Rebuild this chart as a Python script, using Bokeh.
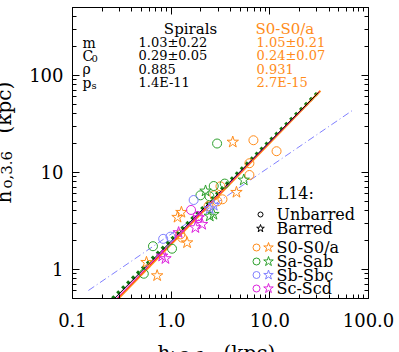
import math
from bokeh.plotting import figure
from bokeh.models import Range1d, LogAxis, FixedTicker, CustomJSTickFormatter, Label
from bokeh.core.properties import value
from bokeh.embed import file_html
from bokeh.resources import INLINE

# ---------------- data ----------------
s0_unbar_x = [6.82, 11.7, 6.21, 6.21, 3.16, 2.94, 1.29, 2.74, 2.39, 3.31, 1.24]
s0_unbar_y = [21.4, 16.5, 12.4, 9.38, 7.17, 5.02, 2.12, 5.79, 4.47, 5.27, 2.29]
s0_bar_x = [4.21, 4.59, 1.27, 1.16, 1.45, 0.562, 0.721]
s0_bar_y = [20.5, 6.22, 3.87, 3.44, 1.88, 1.18, 0.86]
sa_unbar_x = [2.92, 1.98, 2.70, 3.49, 0.654, 1.02, 0.528, 2.44]
sa_unbar_y = [19.8, 5.79, 7.22, 7.65, 1.73, 1.63, 0.90, 5.66]
sa_bar_x = [5.44, 2.23, 2.46, 2.68]
sa_bar_y = [8.33, 6.42, 3.54, 3.69]
sb_unbar_x = [1.69, 0.830, 0.984]
sb_unbar_y = [5.18, 2.06, 2.17]
sb_bar_x = [2.46, 2.70]
sb_bar_y = [4.22, 4.57]
sc_unbar_x = [1.59, 1.86]
sc_unbar_y = [4.09, 3.54]
sc_bar_x = [1.76, 2.06, 1.90, 0.811, 0.875, 1.19]
sc_bar_y = [2.69, 2.91, 3.41, 1.37, 1.29, 2.39]

# fitted relations (end points)
green_fit_x = [0.254, 31.1]
green_fit_y = [0.5, 67.5]
black_fit_x = [0.266, 31.1]
black_fit_y = [0.5, 66.5]
magenta_fit_x = [0.278, 31.6]
magenta_fit_y = [0.5, 67.5]
red_fit_x = [0.285, 32.0]
red_fit_y = [0.5, 68.5]
orange_fit_x = [0.292, 32.6]
orange_fit_y = [0.5, 69.2]
blue_fit_x = [0.145, 70.0]
blue_fit_y = [0.605, 44.0]

x_major = [0.1, 1, 10, 100]
x_minor = [0.2, 0.3, 0.4, 0.5, 0.6, 0.7, 0.8, 0.9, 2, 3, 4, 5, 6, 7, 8, 9,
           20, 30, 40, 50, 60, 70, 80, 90]
y_major = [1, 10, 100]
y_minor = [0.6, 0.7, 0.8, 0.9, 2, 3, 4, 5, 6, 7, 8, 9,
           20, 30, 40, 50, 60, 70, 80, 90, 200, 300, 400]

stat_names = ["m", "C", "\u03c1", "p"]
stat_subs = ["", "0", "", "s"]
spiral_stats = ["1.03\u00b10.22", "0.29\u00b10.05", "0.885", "1.4E-11"]
s0_stats = ["1.05\u00b10.21", "0.24\u00b10.07", "0.931", "2.7E-15"]
legend_types = ["S0-S0/a", "Sa-Sab", "Sb-Sbc", "Sc-Scd"]

# ---------------- styles ----------------
ORANGE = "#ff8c1a"
GREEN = "#2ca02c"
BLUE = "#8080ff"
MAGENTA = "#dd22dd"
RED = "#ff2020"
type_colors = [ORANGE, GREEN, BLUE, MAGENTA]
SERIF = "DejaVu Serif"

XR = (0.1, 100.0)
YR = (0.5, 500.0)
FW, FH = 296, 291  # frame size in px

p = figure(width=399, height=352, x_axis_type="log", y_axis_type="log",
           x_range=Range1d(*XR), y_range=Range1d(*YR),
           output_backend="svg", toolbar_location=None,
           min_border_left=72, min_border_right=31, min_border_top=7,
           min_border_bottom=54)
p.xgrid.visible = False
p.ygrid.visible = False
p.outline_line_color = "black"
p.background_fill_color = "white"
p.border_fill_color = "white"

xt = FixedTicker(ticks=x_major, minor_ticks=x_minor)
yt = FixedTicker(ticks=y_major, minor_ticks=y_minor)


def style_axis(ax, labels=True):
    ax.axis_line_color = "black"
    ax.major_tick_line_color = "black"
    ax.minor_tick_line_color = "black"
    ax.major_tick_in = 7
    ax.major_tick_out = 0
    ax.minor_tick_in = 4
    ax.minor_tick_out = 0
    if labels:
        ax.major_label_text_font = SERIF
        ax.major_label_text_font_size = "18px"
        ax.major_label_text_color = "black"
    else:
        ax.formatter = CustomJSTickFormatter(code="return ' ';")
        ax.major_label_text_font_size = "1px"
        ax.major_label_text_alpha = 0
        ax.major_label_standoff = 0


xa = p.xaxis[0]
xa.ticker = xt
xa.formatter = CustomJSTickFormatter(code="return tick.toFixed(1);")
style_axis(xa)
xa.major_label_standoff = 14

ya = p.yaxis[0]
ya.ticker = yt
ya.formatter = CustomJSTickFormatter(code="return tick.toFixed(0);")
style_axis(ya)
ya.major_label_standoff = 9

top = LogAxis(ticker=FixedTicker(ticks=x_major, minor_ticks=x_minor))
style_axis(top, labels=False)
p.add_layout(top, "above")
right = LogAxis(ticker=FixedTicker(ticks=y_major, minor_ticks=y_minor))
style_axis(right, labels=False)
p.add_layout(right, "right")

# ---------------- fit lines ----------------
p.line(blue_fit_x, blue_fit_y, line_color=BLUE, line_width=1, line_dash="7 3 1 3")
p.line(green_fit_x, green_fit_y, line_color="#107a10", line_width=3.5, line_dash="3 4")
p.line(orange_fit_x, orange_fit_y, line_color=ORANGE, line_width=2)
p.line(red_fit_x, red_fit_y, line_color=RED, line_width=1)
p.line(magenta_fit_x, magenta_fit_y, line_color=MAGENTA, line_width=1)
p.line(black_fit_x, black_fit_y, line_color="black", line_width=1)

# ---------------- points ----------------
groups = [
    (s0_unbar_x, s0_unbar_y, s0_bar_x, s0_bar_y, ORANGE),
    (sa_unbar_x, sa_unbar_y, sa_bar_x, sa_bar_y, GREEN),
    (sb_unbar_x, sb_unbar_y, sb_bar_x, sb_bar_y, BLUE),
    (sc_unbar_x, sc_unbar_y, sc_bar_x, sc_bar_y, MAGENTA),
]
for ux, uy, bx, by, col in groups:
    p.scatter(ux, uy, marker="circle", size=9, fill_color=None, line_color=col, line_width=1)
    p.scatter(bx, by, marker="star", size=12, fill_color=None, line_color=col, line_width=1)


# ---------------- helpers for screen -> data (layout positions) ----------------
def sx_to_data(sx):
    return 10 ** (math.log10(XR[0]) + sx / FW * (math.log10(XR[1]) - math.log10(XR[0])))


def sy_to_data(sy):
    return 10 ** (math.log10(YR[0]) + sy / FH * (math.log10(YR[1]) - math.log10(YR[0])))


def label(text, sx, sy, size, color="black", align="left", baseline="middle", angle=0.0):
    p.add_layout(Label(x=sx, y=sy, x_units="screen", y_units="screen", text=text,
                       text_font=SERIF, text_font_size=size, text_color=color,
                       text_align=align, text_baseline=baseline, angle=angle))


def outer_text(text, sx, sy, size, angle=0.0):
    # drawn at overlay level so that it is not clipped to the frame
    r = p.text(x=[sx_to_data(sx)], y=[sy_to_data(sy)], text=[text],
               text_font=value(SERIF), text_font_size=value(size),
               text_color="black", text_align="left", text_baseline="alphabetic",
               angle=angle, level="overlay")
    return r


# ---------------- statistics block ----------------
label("Spirals", 118, 270, "15px", align="center")
label("S0-S0/a", 183, 270, "15px", color=ORANGE)
row_sy = [256, 243, 230, 216]
for name, sub, sv, ov, sy in zip(stat_names, stat_subs, spiral_stats, s0_stats, row_sy):
    label(name, 10, sy, "14px")
    if sub:
        label(sub, 19, sy - 3, "10px")
    label(sv, 66, sy, "13px")
    label(ov, 184, sy, "13px", color=ORANGE)

# ---------------- legend ----------------
label("L14:", 205, 105, "16px")
label("Unbarred", 204, 84, "16px")
label("Barred", 204, 70, "16px")
p.scatter([sx_to_data(188)], [sy_to_data(84)], marker="circle", size=5,
          fill_color=None, line_color="black")
p.scatter([sx_to_data(188)], [sy_to_data(70)], marker="star", size=8,
          fill_color=None, line_color="black")
leg_sy = [51, 37, 23.5, 10]
for name, col, sy in zip(legend_types, type_colors, leg_sy):
    label(name, 204, sy, "16px")
    p.scatter([sx_to_data(184)], [sy_to_data(sy)], marker="circle", size=7,
              fill_color=None, line_color=col)
    p.scatter([sx_to_data(196)], [sy_to_data(sy)], marker="star", size=10,
              fill_color=None, line_color=col)

# ---------------- axis titles (partly outside the page, as in the reference) ----------------
outer_text("h", 85, -54, "20px")
outer_text("i,3.6", 98, -58, "15px")
outer_text("(kpc)", 151, -54, "20px")

outer_text("h", -69, 95, "20px", angle=math.pi / 2)
outer_text("o,3.6", -66, 110, "15px", angle=math.pi / 2)
outer_text("(kpc)", -69, 165, "20px", angle=math.pi / 2)

open("out.html", "w").write(file_html(p, INLINE))
